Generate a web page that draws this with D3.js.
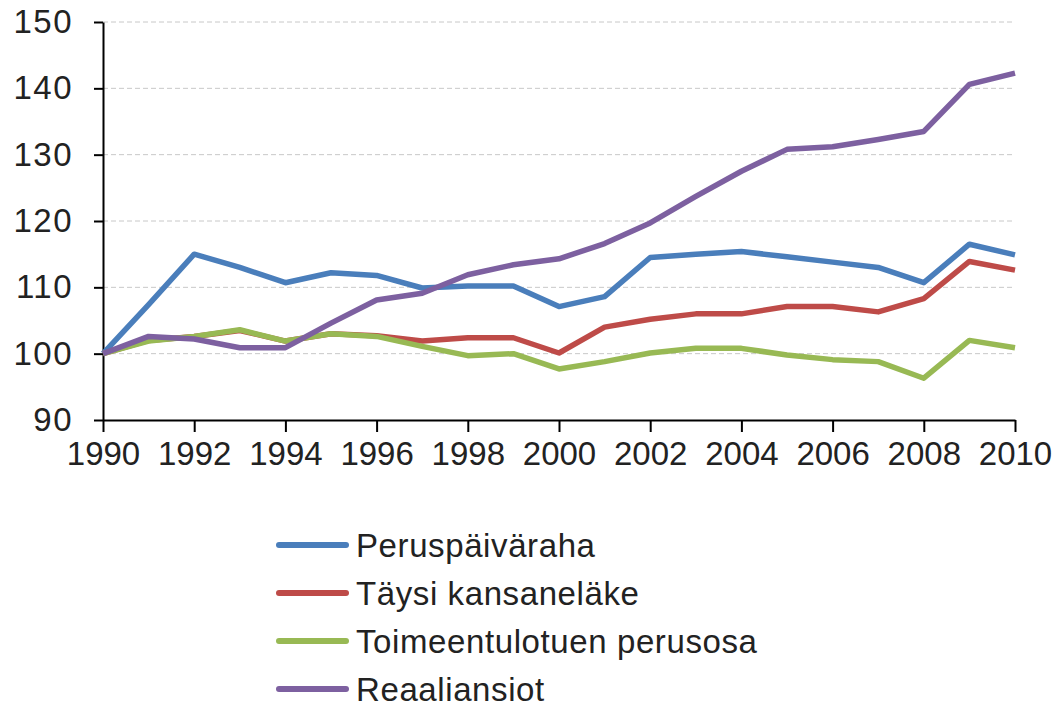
<!DOCTYPE html>
<html>
<head>
<meta charset="utf-8">
<script src="https://cdn.jsdelivr.net/npm/d3@7"></script>
<style>
  body { margin: 0; background: #fff; }
  svg { display: block; font-family: "Liberation Sans", Arial, sans-serif; }
</style>
</head>
<body>
<div id="chart"></div>
<script>
// vuodet ja indeksisarjat (1990 = 100)
var years = d3.range(1990, 2011);
var yTicks = [90, 100, 110, 120, 130, 140, 150];
var xTicks = d3.range(1990, 2011, 2);

var perusPaivaraha = [100, 107.4, 115.0, 113.0, 110.7, 112.2, 111.8, 109.9, 110.2, 110.2, 107.1,
                      108.6, 114.5, 115.0, 115.4, 114.6, 113.8, 113.0, 110.7, 116.5, 114.9];
var kansanelake    = [100, 102.0, 102.6, 103.5, 101.9, 103.0, 102.7, 101.9, 102.4, 102.4, 100.1,
                      104.0, 105.2, 106.0, 106.0, 107.1, 107.1, 106.3, 108.3, 113.9, 112.6];
var toimeentulo    = [100, 101.9, 102.6, 103.6, 101.9, 103.0, 102.6, 101.1, 99.7, 100.0, 97.7,
                      98.8, 100.1, 100.8, 100.8, 99.8, 99.1, 98.8, 96.3, 102.0, 100.9];
var reaaliansiot   = [100, 102.6, 102.2, 100.9, 100.9, 104.6, 108.1, 109.1, 111.9, 113.4, 114.3,
                      116.6, 119.7, 123.7, 127.5, 130.8, 131.2, 132.3, 133.5, 140.6, 142.3];

var seriesNames = ["Peruspäiväraha", "Täysi kansaneläke", "Toimeentulotuen perusosa", "Reaaliansiot"];
var seriesColors = ["#4a7ebb", "#be4b48", "#98b954", "#7d60a0"];
var seriesValues = [perusPaivaraha, kansanelake, toimeentulo, reaaliansiot];

var width = 1062, height = 710;
var margin = { left: 103, right: 47, top: 22, bottom: 290 };

var svg = d3.select("#chart").append("svg")
    .attr("width", width)
    .attr("height", height);

var x = d3.scaleLinear()
    .domain([1990, 2010])
    .range([margin.left, width - margin.right]);

var y = d3.scaleLinear()
    .domain([90, 150])
    .range([height - margin.bottom, margin.top]);

// vaakaviivat
svg.append("g")
    .selectAll("line")
    .data(yTicks.filter(function(d) { return d > 90; }))
    .enter().append("line")
    .attr("x1", x(1990))
    .attr("x2", x(2010))
    .attr("y1", function(d) { return y(d); })
    .attr("y2", function(d) { return y(d); })
    .attr("stroke", "#c8c8c8")
    .attr("stroke-width", 1)
    .attr("stroke-dasharray", "5,3");

var yAxis = svg.append("g")
    .attr("transform", "translate(" + margin.left + ",0)")
    .call(d3.axisLeft(y).tickValues(yTicks).tickSize(9).tickPadding(21).tickSizeOuter(0));

var xAxis = svg.append("g")
    .attr("transform", "translate(0," + y(90) + ")")
    .call(d3.axisBottom(x).tickValues(xTicks).tickSize(12).tickPadding(10)
        .tickFormat(d3.format("d")).tickSizeOuter(0));

[yAxis, xAxis].forEach(function(ax) {
    ax.select(".domain").attr("stroke", "#000").attr("stroke-width", 2);
    ax.selectAll(".tick line").attr("stroke", "#000").attr("stroke-width", 2);
    ax.selectAll(".tick text")
        .attr("fill", "#222")
        .style("font-size", "33px")
        .style("font-family", "'Liberation Sans', Arial, sans-serif");
});
yAxis.selectAll(".tick text").style("letter-spacing", "1.5px");

var line = d3.line()
    .x(function(d, i) { return x(years[i]); })
    .y(function(d) { return y(d); });

svg.append("g")
    .selectAll("path")
    .data(seriesValues)
    .enter().append("path")
    .attr("d", line)
    .attr("fill", "none")
    .attr("stroke", function(d, i) { return seriesColors[i]; })
    .attr("stroke-width", 5.5)
    .attr("stroke-linejoin", "round");

// selite
var legend = svg.append("g")
    .selectAll("g")
    .data(seriesNames)
    .enter().append("g")
    .attr("transform", function(d, i) { return "translate(277," + (545 + i * 48) + ")"; });

legend.append("line")
    .attr("x1", 2).attr("x2", 69)
    .attr("stroke", function(d, i) { return seriesColors[i]; })
    .attr("stroke-width", 6)
    .attr("stroke-linecap", "round");

legend.append("text")
    .attr("x", 79)
    .attr("y", 12)
    .attr("fill", "#222")
    .style("font-size", "33px")
    .style("letter-spacing", "0.6px")
    .text(function(d) { return d; });
</script>
</body>
</html>
